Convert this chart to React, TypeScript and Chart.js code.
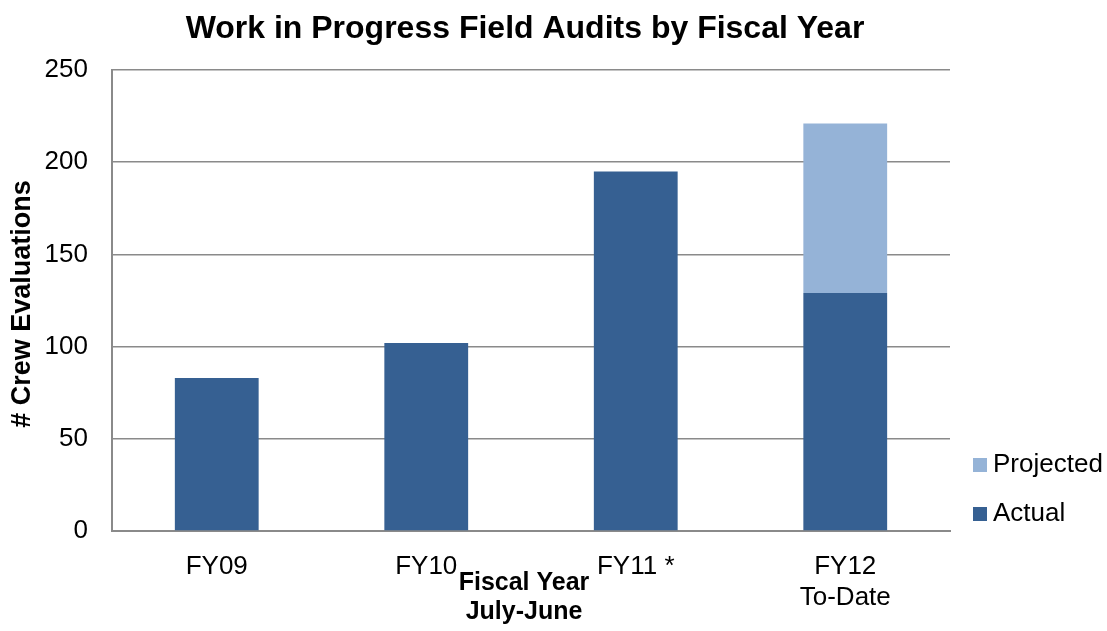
import React, { useEffect, useRef } from "react";
import { Chart, registerables } from "chart.js";

Chart.register(...registerables);

const categories: (string | string[])[] = ["FY09", "FY10", "FY11 *", ["FY12", "To-Date"]];
const actualValues: (number | null)[] = [83, 102, 195, 129];
const projectedValues: (number | null)[] = [null, null, null, 92];
const yTicks = [0, 50, 100, 150, 200, 250];

const chartTitle = "Work in Progress Field Audits by Fiscal Year";
const yTitle = "# Crew Evaluations";
const xTitleLines = ["Fiscal Year", "July-June"];

const FONT = '"Liberation Sans", Arial, sans-serif';
const ACTUAL_COLOR = "#366092";
const PROJECTED_COLOR = "#95B3D7";

const decorPlugin = {
  id: "decor",
  afterDraw(chart: any) {
    const ctx = chart.ctx as CanvasRenderingContext2D;
    ctx.save();
    ctx.fillStyle = "#000";
    // Title
    ctx.font = `bold 32px ${FONT}`;
    ctx.textAlign = "center";
    ctx.textBaseline = "alphabetic";
    ctx.fillText(chartTitle, 525, 38);
    // X title
    ctx.font = `bold 25px ${FONT}`;
    ctx.fillText(xTitleLines[0], 524, 590);
    ctx.fillText(xTitleLines[1], 524, 619);
    // Y title
    ctx.save();
    ctx.translate(23, 304);
    ctx.rotate(-Math.PI / 2);
    ctx.font = `bold 27px ${FONT}`;
    ctx.textBaseline = "middle";
    ctx.fillText(yTitle, 0, 0);
    ctx.restore();
    // Legend
    const items = [
      { label: "Projected", color: PROJECTED_COLOR, y: 465 },
      { label: "Actual", color: ACTUAL_COLOR, y: 514 },
    ];
    ctx.font = `26px ${FONT}`;
    ctx.textAlign = "left";
    ctx.textBaseline = "middle";
    for (const it of items) {
      ctx.fillStyle = it.color;
      ctx.fillRect(973, it.y - 7, 14, 14);
      ctx.fillStyle = "#000";
      ctx.fillText(it.label, 993, it.y);
    }
    ctx.restore();
  },
};

export default function App() {
  const ref = useRef<HTMLCanvasElement>(null);
  useEffect(() => {
    document.body.style.margin = "0";
    const canvas = ref.current!;
    const chart = new Chart(canvas, {
      type: "bar",
      data: {
        labels: categories,
        datasets: [
          {
            label: "Actual",
            data: actualValues,
            backgroundColor: ACTUAL_COLOR,
            barPercentage: 0.4,
            categoryPercentage: 1,
          },
          {
            label: "Projected",
            data: projectedValues,
            backgroundColor: PROJECTED_COLOR,
            barPercentage: 0.4,
            categoryPercentage: 1,
          },
        ],
      },
      options: {
        animation: false,
        responsive: false,
        maintainAspectRatio: false,
        layout: { padding: { top: 70, right: 157, left: 0, bottom: 0 } },
        plugins: {
          legend: { display: false },
          title: { display: false },
          tooltip: { enabled: false },
        },
        scales: {
          x: {
            stacked: true,
            grid: { display: false, drawTicks: false },
            border: { display: true, color: "#8a8a8a", width: 2 },
            ticks: {
              color: "#000",
              font: { family: FONT, size: 26, lineHeight: 1.2 },
              padding: 20,
              maxRotation: 0,
              autoSkip: false,
            },
            afterFit(scale: any) {
              scale.height = 100;
            },
          },
          y: {
            stacked: true,
            min: 0,
            max: 250,
            afterBuildTicks(scale: any) {
              scale.ticks = yTicks.map((v) => ({ value: v }));
            },
            grid: { color: "#8a8a8a", lineWidth: 1.5, drawTicks: false },
            border: { display: true, color: "#8a8a8a", width: 2 },
            ticks: {
              color: "#000",
              font: { family: FONT, size: 26 },
              padding: 24,
            },
            afterFit(scale: any) {
              scale.width = 112;
            },
          },
        },
      },
      plugins: [decorPlugin],
    });
    return () => chart.destroy();
  }, []);
  return (
    <div style={{ width: 1107, height: 631 }}>
      <canvas ref={ref} width={1107} height={631} style={{ display: "block" }} />
    </div>
  );
}
